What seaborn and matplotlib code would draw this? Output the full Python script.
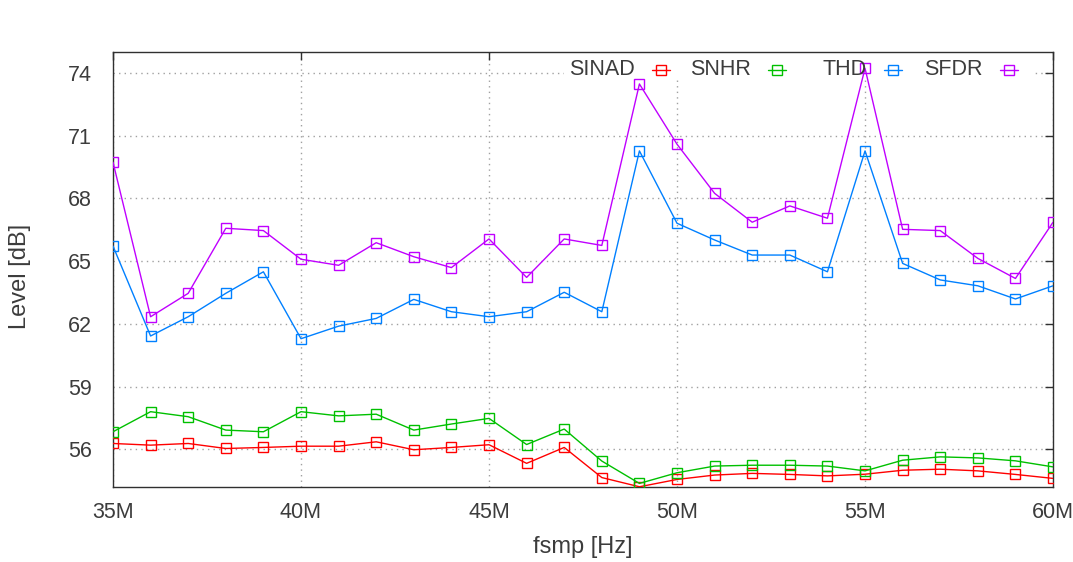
import matplotlib
matplotlib.use("Agg")
import matplotlib.pyplot as plt
from matplotlib.lines import Line2D
from matplotlib.patches import Rectangle
from matplotlib.ticker import FuncFormatter, MultipleLocator
import seaborn as sns
import pandas as pd

# Sampling frequency in MHz
freq_mhz = [35, 36, 37, 38, 39, 40, 41, 42, 43, 44, 45, 46, 47,
            48, 49, 50, 51, 52, 53, 54, 55, 56, 57, 58, 59, 60]

sinad = [56.28, 56.20, 56.28, 56.04, 56.09, 56.15, 56.15, 56.36, 55.98, 56.09,
         56.22, 55.33, 56.09, 54.65, 54.21, 54.56, 54.77, 54.85, 54.80, 54.73,
         54.81, 55.00, 55.05, 54.97, 54.80, 54.61]
snhr = [56.84, 57.80, 57.56, 56.92, 56.84, 57.80, 57.60, 57.68, 56.92, 57.21,
        57.48, 56.23, 56.97, 55.44, 54.37, 54.88, 55.20, 55.24, 55.24, 55.20,
        54.97, 55.48, 55.64, 55.59, 55.45, 55.16]
thd = [65.72, 61.42, 62.34, 63.46, 64.49, 61.29, 61.89, 62.26, 63.17, 62.58,
       62.34, 62.58, 63.51, 62.58, 70.27, 66.81, 66.01, 65.29, 65.29, 64.49,
       70.27, 64.89, 64.10, 63.82, 63.19, 63.82]
sfdr = [69.73, 62.34, 63.46, 66.57, 66.46, 65.09, 64.80, 65.88, 65.21, 64.69,
        66.06, 64.22, 66.06, 65.75, 73.47, 70.59, 68.24, 66.86, 67.64, 67.05,
        74.22, 66.52, 66.46, 65.13, 64.17, 66.86]

series_names = ["SINAD", "SNHR", "THD", "SFDR"]
series_colors = ["#ff0000", "#00c000", "#0080ff", "#c000ff"]
y_ticks = [56, 59, 62, 65, 68, 71, 74]

sns.set_style("white")
plt.rcParams["font.family"] = ["Liberation Sans", "DejaVu Sans"]
TEXT = "#3c3c3c"

frames = []
for name, vals in zip(series_names, [sinad, snhr, thd, sfdr]):
    frames.append(pd.DataFrame({"freq": freq_mhz, "level": vals, "metric": name}))
df = pd.concat(frames, ignore_index=True)

fig = plt.figure(figsize=(10.73, 5.62), dpi=100)
ax = fig.add_axes([0.1053, 0.1335, 0.8761, 0.774])

for name, color in zip(series_names, series_colors):
    sns.lineplot(data=df[df["metric"] == name], x="freq", y="level", ax=ax,
                 color=color, lw=1.0, marker="s", markersize=6.5,
                 markerfacecolor="none", markeredgecolor=color,
                 markeredgewidth=1.0, legend=False, zorder=3)

ax.set_xlim(35, 60)
ax.set_ylim(54.2, 75.0)
ax.xaxis.set_major_locator(MultipleLocator(5))
ax.xaxis.set_major_formatter(FuncFormatter(lambda v, p: f"{v:.0f}M"))
ax.set_yticks(y_ticks)

ax.grid(True, color="#a0a0a0", linestyle=(0, (1, 3)), linewidth=1.0, zorder=0)
ax.set_axisbelow(True)

for s in ax.spines.values():
    s.set_color("#303030")
    s.set_linewidth(1.0)

ax.tick_params(axis="both", direction="in", length=6, width=1.0,
               colors="#303030", labelcolor=TEXT, labelsize=15.5,
               top=True, right=True)
ax.tick_params(axis="y", pad=15)
ax.tick_params(axis="x", pad=11)

ax.set_xlabel("fsmp [Hz]", fontsize=17, color=TEXT)
ax.set_ylabel("Level [dB]", fontsize=17, color=TEXT)
ax.xaxis.set_label_coords(0.5, -0.112)
ax.yaxis.set_label_coords(-0.087, 0.485)

# Key: one row in the top-right corner, label to the left of each sample
key_box = Rectangle((0.48, 0.935), 0.50, 0.065, transform=ax.transAxes,
                    facecolor="white", edgecolor="none", zorder=1)
ax.add_patch(key_box)
key_y = 0.9586
for i, (name, color) in enumerate(zip(series_names, series_colors)):
    xc = 0.5830 + 0.1234 * i
    ax.add_line(Line2D([xc - 0.0095, xc + 0.0095], [key_y, key_y],
                       transform=ax.transAxes, color=color, lw=1.0,
                       zorder=4))
    ax.add_line(Line2D([xc], [key_y], transform=ax.transAxes, color=color,
                       marker="s", markersize=6.5, markerfacecolor="none",
                       markeredgecolor=color, markeredgewidth=1.0, zorder=4))
    ax.text(xc - 0.028, key_y, name, transform=ax.transAxes, ha="right",
            va="center", fontsize=15.5, color=TEXT, zorder=4)

fig.savefig("out.png", dpi=100)
